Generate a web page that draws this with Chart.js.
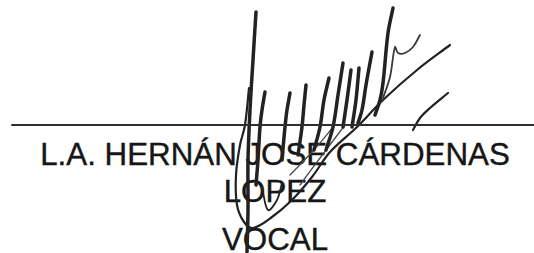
<!DOCTYPE html>
<html>
<head>
<meta charset="utf-8">
<script src="https://cdn.jsdelivr.net/npm/chart.js@4"></script>
<style>
  html, body { margin: 0; padding: 0; background: #fff; }
  #wrap { position: relative; width: 534px; height: 253px; overflow: hidden; }
  .label {
    position: absolute;
    left: 275px;
    transform: translateX(-50%);
    font-family: "Liberation Sans", Arial, sans-serif;
    font-size: 31.3px;
    line-height: 31px;
    color: #161616;
    -webkit-text-stroke: 0.4px #161616;
    white-space: nowrap;
  }
  canvas { position: absolute; left: 0; top: 0; }
</style>
</head>
<body>
<div id="wrap">
  <div class="label" style="top:139px">L.A. HERNÁN JOSE CÁRDENAS</div>
  <div class="label" style="top:176px">LOPEZ</div>
  <div class="label" style="top:224px">VOCAL</div>
  <canvas id="sig" width="534" height="253"></canvas>
</div>
<script>
// signature line
const ruleLine = [[12, 125], [534, 125]];

// pen strokes (x, y in pixels from top left)
const tallStroke = [[256, 12], [253, 60], [250, 110], [248, 160], [248, 210], [247, 252]];
const loopStroke = [[450, 45], [417, 70], [383, 100], [357, 127], [330, 152], [312, 177], [292, 200],
  [272, 217], [253, 228], [244, 222], [237, 205], [236, 175], [240, 145], [245, 125], [249, 88]];
const hump1 = [[265, 92], [262, 110], [260, 127], [258, 160], [256, 185]];
const hump2 = [[290, 93], [287, 110], [285, 127], [282, 160]];
const hump3 = [[306, 85], [304, 105], [302, 127], [298, 155]];
const hump4 = [[329, 78], [324, 100], [320, 127], [314, 150]];
const hump5 = [[343, 63], [338, 95], [333, 127], [326, 150]];
const hump6 = [[351, 70], [347, 100], [343, 127]];
const hump7 = [[359, 68], [356, 100], [352, 127]];
const hump8 = [[372, 52], [366, 85], [362, 110], [358, 123]];
const tallRight = [[393, 8], [388, 33], [383, 83], [380, 100], [375, 115]];
const hookStroke = [[420, 35], [413, 47], [405, 53], [398, 53], [395, 47], [390, 77], [383, 98]];
const shortStroke = [[448, 93], [430, 108], [420, 118], [413, 130]];
const vStroke = [[262, 187], [268, 210], [277, 200], [282, 183]];
const thinDiag1 = [[345, 125], [320, 158], [300, 185]];
const thinDiag2 = [[335, 125], [312, 152], [290, 175]];

const pts = arr => arr.map(p => ({ x: p[0], y: p[1] }));

function stroke(arr, width, color, tension) {
  return {
    data: pts(arr),
    showLine: true,
    borderColor: color || "#222",
    borderWidth: width,
    borderCapStyle: "round",
    pointRadius: 0,
    tension: tension === undefined ? 0.35 : tension,
    fill: false,
  };
}

const config = {
  type: "scatter",
  data: {
    datasets: [
      stroke(ruleLine, 2, "#2e2e2e", 0),
      stroke(tallStroke, 3.5),
      stroke(loopStroke, 2.2),
      stroke(hump1, 3.5),
      stroke(hump2, 3.5),
      stroke(hump3, 3.5),
      stroke(hump4, 3.5),
      stroke(hump5, 3.5),
      stroke(hump6, 3.5),
      stroke(hump7, 3.5),
      stroke(hump8, 3.5),
      stroke(tallRight, 3.5),
      stroke(hookStroke, 1.8, "#3a3a3a"),
      stroke(shortStroke, 2.2),
      stroke(vStroke, 1.8),
      stroke(thinDiag1, 1.3, "#4a4a4a"),
      stroke(thinDiag2, 1.3, "#4a4a4a"),
    ],
  },
  options: {
    responsive: false,
    animation: false,
    layout: { padding: 0 },
    plugins: { legend: { display: false }, tooltip: { enabled: false } },
    scales: {
      x: { type: "linear", min: 0, max: 534, display: false },
      y: { type: "linear", min: 0, max: 253, reverse: true, display: false },
    },
  },
};

new Chart(document.getElementById("sig").getContext("2d"), config);
</script>
</body>
</html>
